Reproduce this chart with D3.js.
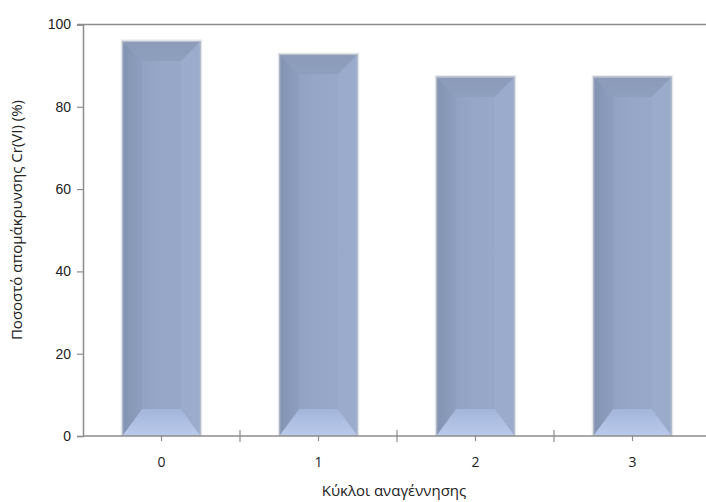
<!DOCTYPE html>
<html>
<head>
<meta charset="utf-8">
<script src="https://cdn.jsdelivr.net/npm/d3@7"></script>
<style>
  html, body { margin: 0; padding: 0; background: #fff; }
  svg { display: block; font-family: "Open Sans", "Noto Sans", sans-serif; }
</style>
</head>
<body>
<svg id="chart" width="706" height="502"></svg>
<script>
// Regeneration cycles and Cr(VI) removal percentages
const cycles = ["0", "1", "2", "3"];
const removal = [96.0, 92.8, 87.3, 87.3];
const yTicks = [0, 20, 40, 60, 80, 100];

const svg = d3.select("#chart");
const margin = { left: 83, right: -5, top: 24.5, bottom: 66 };
const W = 706, H = 502;

const x = d3.scaleBand()
  .domain(cycles)
  .range([margin.left, W - margin.right])
  .paddingInner(0).paddingOuter(0);

const y = d3.scaleLinear()
  .domain([0, 100])
  .range([H - margin.bottom, margin.top]);

const axisColor = "#8c8c8c";
const defs = svg.append("defs");

// horizontal shading of the bar face
const face = defs.append("linearGradient").attr("id", "face")
  .attr("x1", "0").attr("x2", "1").attr("y1", "0").attr("y2", "0");
face.append("stop").attr("offset", "0").attr("stop-color", "#8d9dbd");
face.append("stop").attr("offset", "0.45").attr("stop-color", "#95a6c6");
face.append("stop").attr("offset", "1").attr("stop-color", "#98aacb");

const leftSide = defs.append("linearGradient").attr("id", "leftSide")
  .attr("x1", "0").attr("x2", "1");
leftSide.append("stop").attr("offset", "0").attr("stop-color", "#8292b1");
leftSide.append("stop").attr("offset", "1").attr("stop-color", "#8f9fbf");

const bottomSide = defs.append("linearGradient").attr("id", "bottomSide")
  .attr("x1", "0").attr("x2", "0").attr("y1", "0").attr("y2", "1");
bottomSide.append("stop").attr("offset", "0").attr("stop-color", "#a3b5d9");
bottomSide.append("stop").attr("offset", "1").attr("stop-color", "#b9caec");

const topSide = defs.append("linearGradient").attr("id", "topSide")
  .attr("x1", "0").attr("x2", "0").attr("y1", "0").attr("y2", "1");
topSide.append("stop").attr("offset", "0").attr("stop-color", "#8b9bb9");
topSide.append("stop").attr("offset", "1").attr("stop-color", "#8e9ebd");

// top frame line of the plot area
svg.append("line")
  .attr("x1", margin.left - 6).attr("x2", W)
  .attr("y1", y(100)).attr("y2", y(100))
  .attr("stroke", axisColor).attr("stroke-width", 1.5);

// bars with bevelled faces
const barW = x.bandwidth() * 0.5;
const bevTop = 20, bevBot = 27, bevSide = 20;

svg.append("g").selectAll("g")
  .data(cycles.map((c, i) => ({ c, v: removal[i] })))
  .join("g")
  .each(function (d) {
    const g = d3.select(this);
    const cx = x(d.c) + x.bandwidth() / 2;
    const x0 = cx - barW / 2, x1 = cx + barW / 2;
    const y0 = y(d.v), y1 = y(0);
    // soft outer rim
    g.append("rect")
      .attr("x", x0 - 1.5).attr("y", y0 - 1.5)
      .attr("width", barW + 3).attr("height", y1 - y0 + 1.5)
      .attr("fill", "#e4e6ea");
    g.append("rect")
      .attr("x", x0).attr("y", y0)
      .attr("width", barW).attr("height", y1 - y0)
      .attr("fill", "url(#face)");
    const pt = p => p.map(q => q.join(",")).join(" ");
    // left bevel
    g.append("polygon")
      .attr("points", pt([[x0, y0], [x0 + bevSide, y0 + bevTop], [x0 + bevSide, y1 - bevBot], [x0, y1]]))
      .attr("fill", "url(#leftSide)");
    // right bevel
    g.append("polygon")
      .attr("points", pt([[x1, y0], [x1 - bevSide, y0 + bevTop], [x1 - bevSide, y1 - bevBot], [x1, y1]]))
      .attr("fill", "#9aabcc");
    // top bevel
    g.append("polygon")
      .attr("points", pt([[x0, y0], [x1, y0], [x1 - bevSide, y0 + bevTop], [x0 + bevSide, y0 + bevTop]]))
      .attr("fill", "url(#topSide)");
    // bottom bevel
    g.append("polygon")
      .attr("points", pt([[x0, y1], [x1, y1], [x1 - bevSide, y1 - bevBot], [x0 + bevSide, y1 - bevBot]]))
      .attr("fill", "url(#bottomSide)");
    // thin edge lines
    g.append("rect")
      .attr("x", x0 + 0.5).attr("y", y0 + 0.5)
      .attr("width", barW - 1).attr("height", y1 - y0 - 1)
      .attr("fill", "none").attr("stroke", "#bcc2cc").attr("stroke-width", 1);
  });

// y axis
const yAxis = svg.append("g")
  .attr("transform", `translate(${margin.left},0)`)
  .call(d3.axisLeft(y).tickValues(yTicks).tickSize(6).tickPadding(6));
yAxis.select(".domain").attr("stroke", axisColor).attr("stroke-width", 1.5);
yAxis.selectAll(".tick line").attr("stroke", axisColor).attr("stroke-width", 1.2);
yAxis.selectAll(".tick text").attr("font-size", 14).attr("fill", "#222");

// x axis
const xAxisG = svg.append("g").attr("transform", `translate(0,${y(0)})`);
xAxisG.append("line")
  .attr("x1", margin.left).attr("x2", W)
  .attr("stroke", axisColor).attr("stroke-width", 1.5);
// boundary tick marks crossing the axis
xAxisG.selectAll("line.bound")
  .data(cycles.slice(1))
  .join("line").attr("class", "bound")
  .attr("x1", d => x(d)).attr("x2", d => x(d))
  .attr("y1", -6).attr("y2", 6)
  .attr("stroke", axisColor).attr("stroke-width", 1.2);
// small marks under each category
xAxisG.selectAll("line.mid")
  .data(cycles)
  .join("line").attr("class", "mid")
  .attr("x1", d => x(d) + x.bandwidth() / 2).attr("x2", d => x(d) + x.bandwidth() / 2)
  .attr("y1", 0).attr("y2", 5)
  .attr("stroke", axisColor).attr("stroke-width", 1.2);
xAxisG.selectAll("text")
  .data(cycles)
  .join("text")
  .attr("x", d => x(d) + x.bandwidth() / 2)
  .attr("y", 31)
  .attr("text-anchor", "middle")
  .attr("font-size", 14).attr("fill", "#222")
  .text(d => d);

// axis titles
svg.append("text")
  .attr("x", 394).attr("y", 496)
  .attr("text-anchor", "middle")
  .attr("font-size", 15).attr("fill", "#222")
  .text("Κύκλοι αναγέννησης");

svg.append("text")
  .attr("transform", "translate(22,220) rotate(-90)")
  .attr("text-anchor", "middle")
  .attr("font-size", 15).attr("fill", "#222")
  .text("Ποσοστό απομάκρυνσης Cr(VI) (%)");
</script>
</body>
</html>
